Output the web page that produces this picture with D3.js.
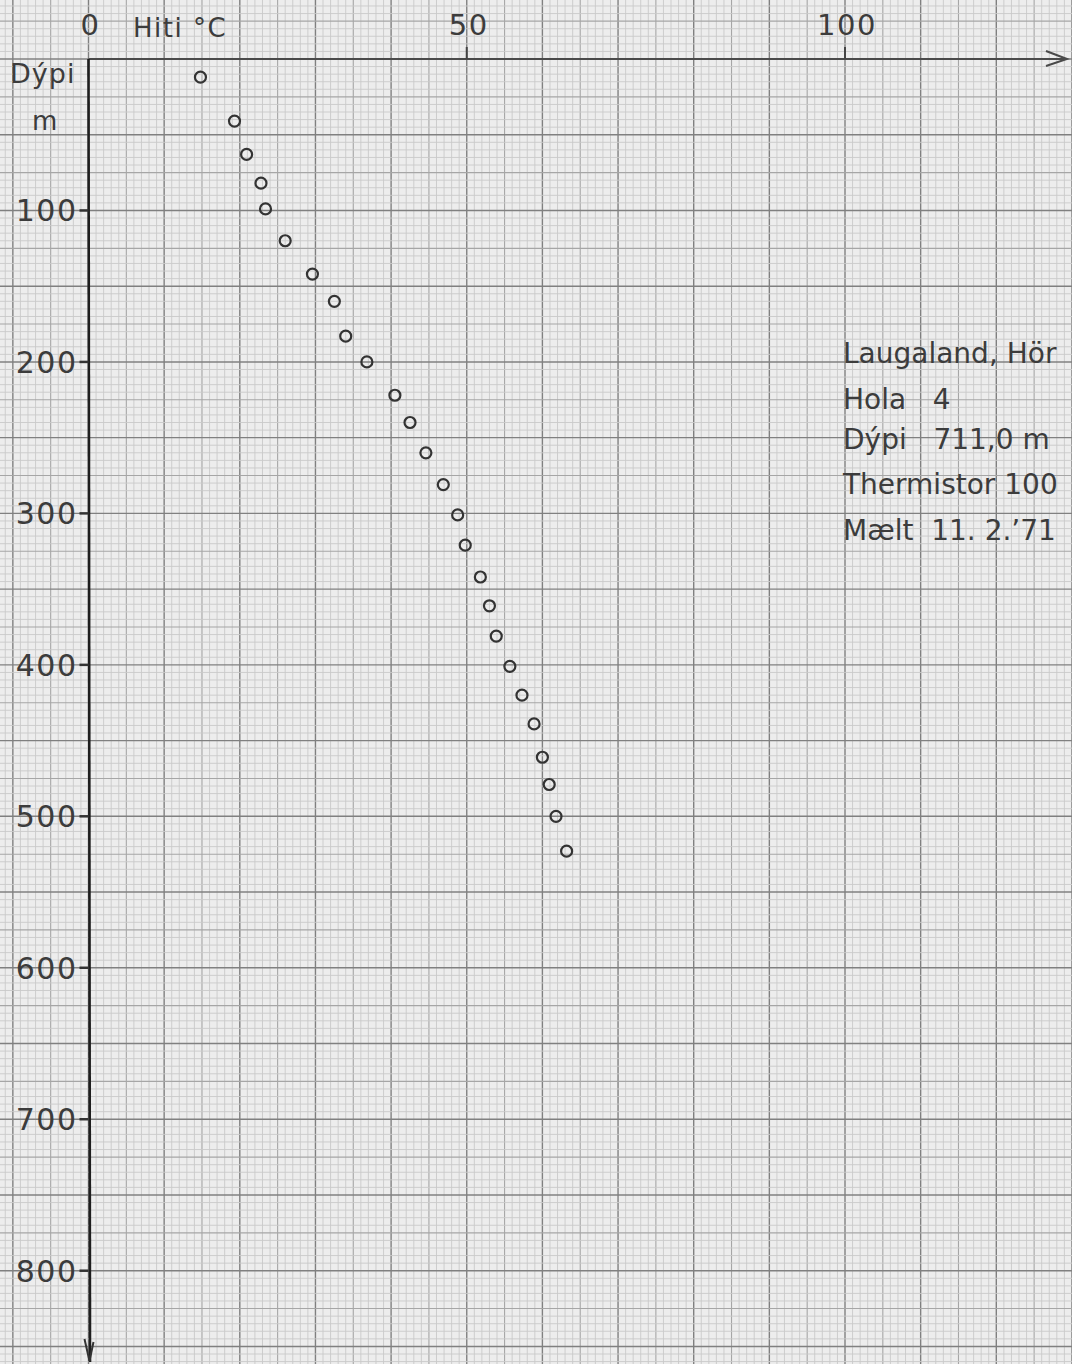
<!DOCTYPE html>
<html>
<head>
<meta charset="utf-8">
<script src="https://cdn.jsdelivr.net/npm/d3@7"></script>
<style>
  html, body { margin: 0; padding: 0; background: #ededed; }
  svg { display: block; }
  text { font-family: "DejaVu Sans", sans-serif; fill: #3c3c3c; }
</style>
</head>
<body>
<svg id="chart" width="1072" height="1364"></svg>
<script>
// ---- data ----
const temperature = [14.8, 19.3, 20.9, 22.8, 23.4, 26.0, 29.6, 32.5, 34.0, 36.8, 40.5, 42.5, 44.6, 46.9, 48.8, 49.8, 51.8, 53.0, 53.9, 55.7, 57.3, 58.9, 60.0, 60.9, 61.8, 63.2];
const depth       = [12, 41, 63, 82, 99, 120, 142, 160, 183, 200, 222, 240, 260, 281, 301, 321, 342, 361, 381, 401, 420, 439, 461, 479, 500, 523];
const xTickLabels = ["0", "50", "100"];
const xTickValues = [0, 50, 100];
const yTickValues = [100, 200, 300, 400, 500, 600, 700, 800];
const yTickLabels = ["100", "200", "300", "400", "500", "600", "700", "800"];
const noteLines   = ["Laugaland, Hör", "Hola   4", "Dýpi   711,0 m", "Thermistor 100", "Mælt  11. 2.\u201971"];

// ---- scales ----
const W = 1072, H = 1364;
const x = d3.scaleLinear().domain([0, 100]).range([88.5, 845]);
const y = d3.scaleLinear().domain([0, 800]).range([59, 1270.7]);
const svg = d3.select("#chart");

// paper
svg.append("rect").attr("width", W).attr("height", H).attr("fill", "#ededed");

// graph paper grid
const tMin = Math.floor(x.invert(0)) - 1, tMax = Math.ceil(x.invert(W)) + 1;
const dMin = Math.floor(y.invert(0) / 5) * 5 - 5, dMax = Math.ceil(y.invert(H) / 5) * 5 + 5;
const grid = svg.append("g");
const vt = d3.range(tMin, tMax + 1);
const hd = d3.range(dMin, dMax + 1, 5);
function vStyle(t) { return t % 10 === 0 ? ["#808080", 1.4] : t % 5 === 0 ? ["#a6a6a6", 1.1] : ["#cacaca", 0.9]; }
function hStyle(d) { return d % 50 === 0 ? ["#808080", 1.4] : d % 25 === 0 ? ["#a6a6a6", 1.1] : ["#cacaca", 0.9]; }
grid.selectAll("line.v").data(vt.filter(t => t % 5 !== 0).concat(vt.filter(t => t % 5 === 0 && t % 10 !== 0)).concat(vt.filter(t => t % 10 === 0)))
  .enter().append("line")
  .attr("x1", t => x(t)).attr("x2", t => x(t)).attr("y1", 0).attr("y2", H)
  .attr("stroke", t => vStyle(t)[0]).attr("stroke-width", t => vStyle(t)[1]);
grid.selectAll("line.h").data(hd.filter(d => d % 25 !== 0).concat(hd.filter(d => d % 25 === 0 && d % 50 !== 0)).concat(hd.filter(d => d % 50 === 0)))
  .enter().append("line")
  .attr("y1", d => y(d)).attr("y2", d => y(d)).attr("x1", 0).attr("x2", W)
  .attr("stroke", d => hStyle(d)[0]).attr("stroke-width", d => hStyle(d)[1]);

// axes
const ax = svg.append("g");
// x axis (temperature) with arrow
ax.append("line").attr("x1", x(0)).attr("x2", W - 6).attr("y1", y(0)).attr("y2", y(0))
  .attr("stroke", "#4a4a4a").attr("stroke-width", 2);
ax.append("path").attr("d", `M${W - 26},${y(0) - 8} L${W - 5},${y(0)} L${W - 26},${y(0) + 7}`)
  .attr("fill", "none").attr("stroke", "#4a4a4a").attr("stroke-width", 2);
// y axis (depth) with arrow
ax.append("line").attr("x1", x(0)).attr("x2", x(0) + 1.5).attr("y1", y(0)).attr("y2", H - 2)
  .attr("stroke", "#1e1e1e").attr("stroke-width", 2.6);
ax.append("path").attr("d", `M${x(0) - 4},${H - 25} L${x(0) + 1},${H - 3} L${x(0) + 5},${H - 22}`)
  .attr("fill", "none").attr("stroke", "#333").attr("stroke-width", 2);

// x ticks & labels
ax.selectAll("line.xt").data(xTickValues.slice(1)).enter().append("line")
  .attr("x1", d => x(d)).attr("x2", d => x(d)).attr("y1", y(0) - 12).attr("y2", y(0))
  .attr("stroke", "#444").attr("stroke-width", 2);
ax.selectAll("text.xl").data(xTickValues).enter().append("text")
  .attr("x", d => x(d) + 2).attr("y", 35)
  .attr("text-anchor", "middle").attr("font-size", 29).attr("letter-spacing", 1.5)
  .text((d, i) => xTickLabels[i]);
svg.append("text").attr("x", 133).attr("y", 37).attr("font-size", 26).attr("letter-spacing", 1.5).text("Hiti °C");

// y ticks & labels
ax.selectAll("line.yt").data(yTickValues).enter().append("line")
  .attr("x1", x(0) - 9).attr("x2", x(0)).attr("y1", d => y(d)).attr("y2", d => y(d))
  .attr("stroke", "#333").attr("stroke-width", 2.5);
ax.selectAll("text.yl").data(yTickValues).enter().append("text")
  .attr("x", x(0) - 11).attr("y", d => y(d) + 11)
  .attr("text-anchor", "end").attr("font-size", 30).attr("letter-spacing", 1.5)
  .text((d, i) => yTickLabels[i]);
svg.append("text").attr("x", 10).attr("y", 83).attr("font-size", 27).attr("letter-spacing", 1).text("Dýpi");
svg.append("text").attr("x", 32).attr("y", 130).attr("font-size", 26).text("m");

// data points
svg.append("g").selectAll("circle").data(temperature).enter().append("circle")
  .attr("cx", d => x(d)).attr("cy", (d, i) => y(depth[i])).attr("r", 5.5)
  .attr("fill", "none").attr("stroke", "#333").attr("stroke-width", 2.2);

// annotation (fitted so nothing is cut at the right edge)
const noteY = [363, 409, 449, 494, 540];
const notes = svg.append("g").selectAll("text").data(noteLines).enter().append("text")
  .attr("x", 843).attr("y", (d, i) => noteY[i])
  .attr("font-size", 28)
  .style("white-space", "pre")
  .text(d => d);
notes.each(function () {
  const avail = W - 843 - 12;
  const len = this.getComputedTextLength();
  if (len > avail) {
    d3.select(this).attr("textLength", avail).attr("lengthAdjust", "spacingAndGlyphs");
  }
});
</script>
</body>
</html>
